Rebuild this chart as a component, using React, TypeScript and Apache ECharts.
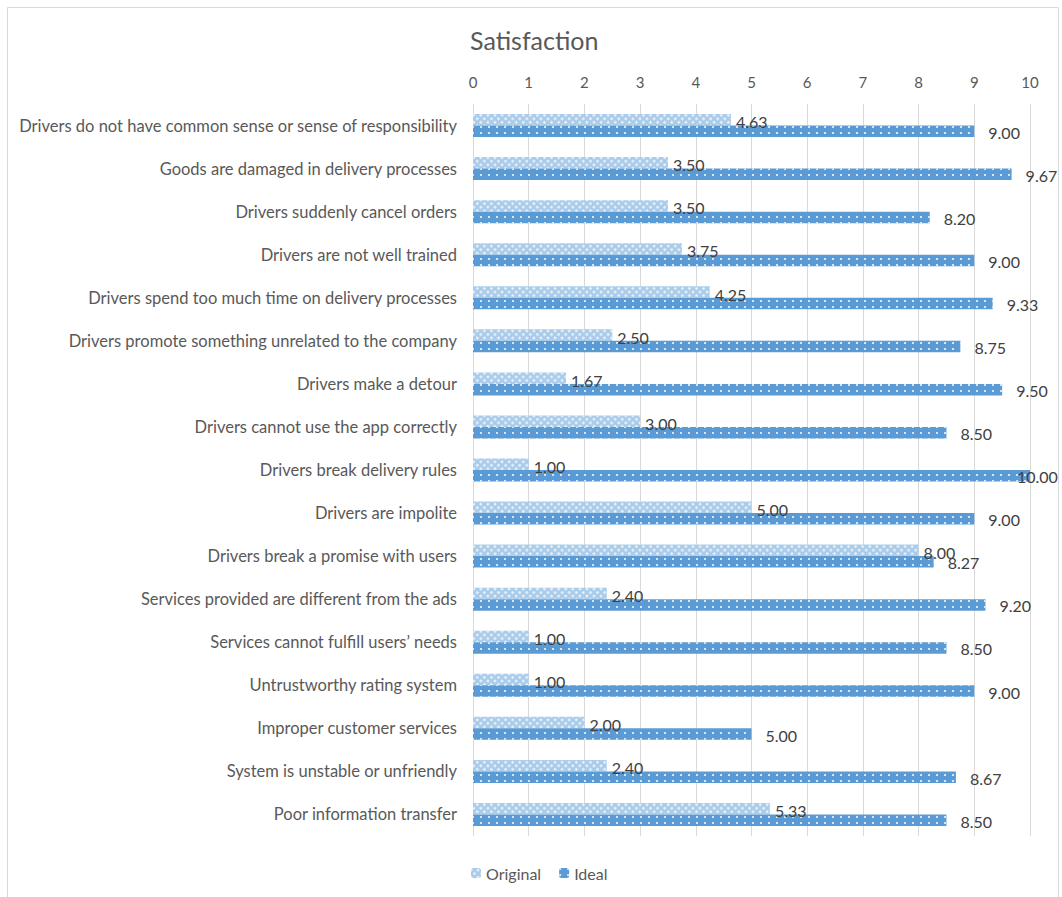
import React, { useEffect, useRef } from "react";
import * as echarts from "echarts";

const categories = [
  "Drivers do not have common sense or sense of responsibility",
  "Goods are damaged in delivery processes",
  "Drivers suddenly cancel orders",
  "Drivers are not well trained",
  "Drivers spend too much time on delivery processes",
  "Drivers promote something unrelated to the company",
  "Drivers make a detour",
  "Drivers cannot use the app correctly",
  "Drivers break delivery rules",
  "Drivers are impolite",
  "Drivers break a promise with users",
  "Services provided are different from the ads",
  "Services cannot fulfill users\u2019 needs",
  "Untrustworthy rating system",
  "Improper customer services",
  "System is unstable or unfriendly",
  "Poor information transfer",
];

const originalValues = [4.63, 3.5, 3.5, 3.75, 4.25, 2.5, 1.67, 3.0, 1.0, 5.0, 8.0, 2.4, 1.0, 1.0, 2.0, 2.4, 5.33];
const idealValues = [9.0, 9.67, 8.2, 9.0, 9.33, 8.75, 9.5, 8.5, 10.0, 9.0, 8.27, 9.2, 8.5, 9.0, 5.0, 8.67, 8.5];

const seriesNames = ["Original", "Ideal"];
const titleText = "Satisfaction";

const FONT = "Lato, 'Noto Sans', sans-serif";
const BLUE = "#5B9BD5";

export default function App() {
  const ref = useRef<HTMLDivElement>(null);
  useEffect(() => {
    if (!ref.current) return;
    const chart = echarts.init(ref.current, null, { renderer: "svg" });
    const fmt = (p: any) => Number(p.value).toFixed(2);
    chart.setOption({
      animation: false,
      backgroundColor: "#ffffff",
      aria: { enabled: false },
      graphic: [
        {
          type: "rect",
          shape: { x: 7.5, y: 7.5, width: 1051, height: 905 },
          style: { fill: "none", stroke: "#d9d9d9", lineWidth: 1 },
          silent: true,
        },
      ],
      title: {
        text: titleText,
        left: 465,
        top: 22,
        textStyle: { fontFamily: FONT, fontSize: 25, fontWeight: "normal", color: "#595959" },
      },
      legend: {
        data: seriesNames,
        left: 466,
        top: 860,
        itemWidth: 10,
        itemHeight: 10,
        itemGap: 18,
        textStyle: { fontFamily: FONT, fontSize: 16, color: "#595959" },
      },
      grid: { left: 473, right: 32, top: 104, height: 732, containLabel: false },
      xAxis: {
        type: "value",
        position: "top",
        min: 0,
        max: 10,
        interval: 1,
        axisLine: { show: false },
        axisTick: { show: false },
        axisLabel: { fontFamily: FONT, fontSize: 15, color: "#595959", margin: 15 },
        splitLine: { show: true, lineStyle: { color: "#d9d9d9", width: 1 } },
      },
      yAxis: {
        type: "category",
        data: categories,
        inverse: true,
        axisLine: { show: false },
        axisTick: { show: false },
        axisLabel: { fontFamily: FONT, fontSize: 16.5, color: "#595959", margin: 16 },
      },
      series: [
        {
          name: seriesNames[0],
          type: "bar",
          data: originalValues,
          barWidth: 11.5,
          barGap: "0%",
          itemStyle: {
            color: "#A9CBEA",
            decal: {
              symbol: "rect",
              symbolSize: 0.75,
              rotation: Math.PI / 4,
              color: "rgba(255,255,255,0.9)",
              dashArrayX: [3, 1.5],
              dashArrayY: [3, 1.5],
            },
          },
          label: {
            show: true,
            position: "right",
            distance: 5,
            offset: [0, 2],
            formatter: fmt,
            fontFamily: FONT,
            fontSize: 16,
            color: "#404040",
          },
        },
        {
          name: seriesNames[1],
          type: "bar",
          data: idealValues.map((v) =>
            v >= 10 ? { value: v, label: { offset: [-27, 1] } } : v
          ),
          barWidth: 11.5,
          barGap: "0%",
          itemStyle: {
            color: BLUE,
            decal: {
              symbol: "rect",
              symbolSize: 1,
              color: "rgba(255,255,255,0.75)",
              dashArrayX: [1.2, 6],
              dashArrayY: [1.2, 4],
            },
          },
          label: {
            show: true,
            position: "right",
            distance: 14,
            offset: [0, 1],
            formatter: fmt,
            fontFamily: FONT,
            fontSize: 16,
            color: "#404040",
          },
        },
      ],
    });
    return () => chart.dispose();
  }, []);
  return (
    <div
      ref={ref}
      style={{ position: "fixed", left: 0, top: 0, width: 1062, height: 897 }}
    />
  );
}
